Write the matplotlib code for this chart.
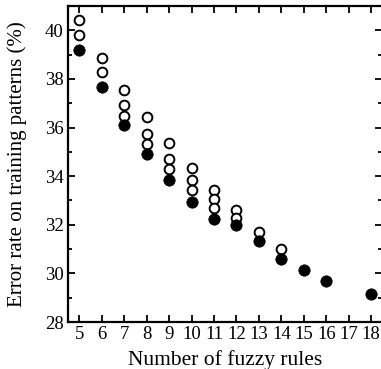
import matplotlib
matplotlib.use("Agg")
import matplotlib.pyplot as plt
from matplotlib.ticker import MultipleLocator

plt.rcParams['font.family'] = ['Liberation Serif', 'DejaVu Serif']

# Best (filled) error rate for each number of fuzzy rules
best_rules = [5, 6, 7, 8, 9, 10, 11, 12, 13, 14, 15, 16, 18]
best_err = [39.21, 37.68, 36.10, 34.92, 33.85, 32.94, 32.22, 31.98, 31.32, 30.60, 30.14, 29.69, 29.14]

# Other (open) solutions found for the same rule counts
other_rules = [5, 5, 6, 6, 7, 7, 7, 8, 8, 8, 9, 9, 9, 10, 10, 10,
               11, 11, 11, 12, 12, 13, 14]
other_err = [40.42, 39.79, 38.85, 38.28, 37.54, 36.94, 36.49,
             36.44, 35.75, 35.34, 35.37, 34.69, 34.28,
             34.34, 33.86, 33.44, 33.42, 33.05, 32.67,
             32.59, 32.26, 31.72, 31.01]

x_ticks = list(range(5, 19))
y_ticks = [28, 30, 32, 34, 36, 38, 40]

fig = plt.figure(figsize=(3.81, 3.69), dpi=100)
ax = fig.add_axes([68 / 381, 1 - 322 / 369, 314.4 / 381, 316 / 369])

ax.plot(other_rules, other_err, linestyle='none', marker='o', markersize=7.0,
        markerfacecolor='white', markeredgecolor='black', markeredgewidth=1.4,
        zorder=3, clip_on=False)
ax.plot(best_rules, best_err, linestyle='none', marker='o', markersize=8.2,
        markerfacecolor='black', markeredgecolor='black', markeredgewidth=0.5,
        zorder=4, clip_on=False)

ax.set_xlim(4.5, 18.5)
ax.set_ylim(28, 41)
ax.set_xticks(x_ticks)
ax.set_yticks(y_ticks)
ax.yaxis.set_minor_locator(MultipleLocator(1))

ax.tick_params(which='both', direction='in', top=True, right=True,
               width=1.3, labelsize=13.5)
ax.tick_params(which='major', length=5)
ax.tick_params(which='minor', length=3)
ax.tick_params(axis='x', pad=3)
ax.tick_params(axis='y', pad=3)

for s in ax.spines.values():
    s.set_linewidth(1.6)

ax.set_xlabel('Number of fuzzy rules', fontsize=15.5, labelpad=5)
ax.set_ylabel('Error rate on training patterns (%)', fontsize=15, labelpad=13)

fig.savefig('out.png', dpi=100)
